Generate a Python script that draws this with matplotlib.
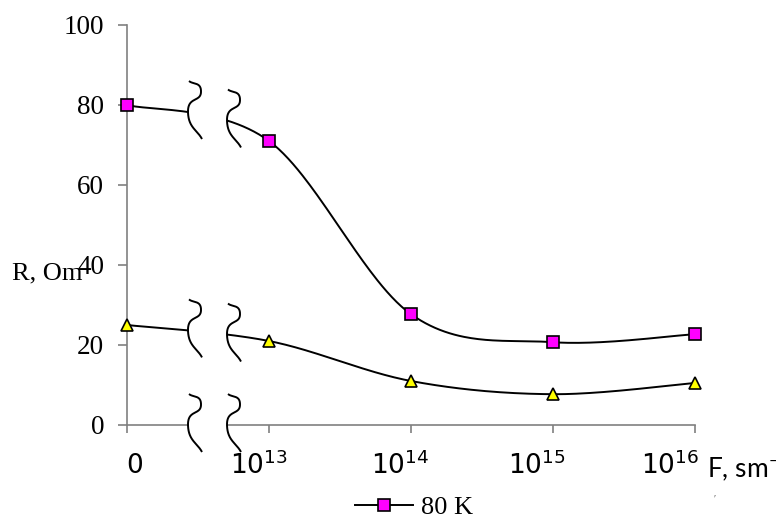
import numpy as np
import matplotlib
matplotlib.use("Agg")
import matplotlib.pyplot as plt
from matplotlib.patches import Rectangle

# data
x_labels = ["0", "10^{13}", "10^{14}", "10^{15}", "10^{16}"]
r_80k = [80, 71, 27.7, 20.7, 22.7]
r_other = [25, 21, 11, 7.7, 10.5]
legend_label = "80 K"

# layout (pixel offsets of tick labels from their ticks, as in the original)
label_shift_px = [7, -10, -11, -16, -25]

SERIF = "Liberation Serif"
SANS = "Lato"
plt.rcParams["mathtext.fontset"] = "custom"
plt.rcParams["mathtext.rm"] = SANS


def bezier_chain(pts, k, n=60):
    p = np.vstack([pts[0], pts, pts[-1]])
    out = []
    t = np.linspace(0, 1, n)[:, None]
    for i in range(1, len(p) - 2):
        p0, p1, p2, p3 = p[i - 1], p[i], p[i + 1], p[i + 2]
        c1 = p1 + (p2 - p0) * k
        c2 = p2 - (p3 - p1) * k
        out.append(((1 - t) ** 3) * p1 + 3 * ((1 - t) ** 2) * t * c1
                   + 3 * (1 - t) * t ** 2 * c2 + t ** 3 * p2)
    return np.vstack(out)


def smooth(y, n=60):
    # Excel-like smoothed line through the points
    pts = np.column_stack([np.arange(len(y)), y]).astype(float)
    c = bezier_chain(pts, 1 / 6, n)
    return c[:, 0], c[:, 1]


def value_at(y, xq):
    xs, ys = smooth(y, 400)
    return np.interp(xq, xs, ys)


def wave(ax, x0, y0):
    # break mark, pixel offsets converted to data units
    ctrl = np.array([[1, -31], [13, -20], [0, 0], [14, 27]], dtype=float)
    c = bezier_chain(ctrl, 1 / 3, 80)
    ax.plot(x0 + c[:, 0] / 142.0, y0 - c[:, 1] / 4.0, color="black", lw=1.4,
            zorder=6, clip_on=False, solid_capstyle="butt")


fig = plt.figure(figsize=(7.76, 5.18), dpi=100)
ax = fig.add_axes([127 / 776, 93 / 518, 568 / 776, 400 / 518])

xpos = np.arange(len(x_labels))
xs, ys = smooth(r_80k)
ax.plot(xs, ys, color="black", lw=1.4, zorder=3)
ax.plot(xpos, r_80k, ls="none", marker="s", ms=8.5, mfc="#FF00FF", mec="black",
        mew=1.2, zorder=7, clip_on=False)
xs, ys = smooth(r_other)
ax.plot(xs, ys, color="black", lw=1.4, zorder=3)
ax.plot(xpos, r_other, ls="none", marker="^", ms=9, mfc="#FFFF00", mec="black",
        mew=1.2, zorder=7, clip_on=False)

# legend shows only the square series
ax.plot([], [], color="black", lw=1.4, marker="s", ms=8.5, mfc="#FF00FF",
        mec="black", mew=1.2, label=legend_label)
ax.legend(loc="center", bbox_to_anchor=(414 / 776, 1 - 507 / 518),
          bbox_transform=fig.transFigure, frameon=False, handlelength=2.2,
          handletextpad=0.3, borderpad=0, prop={"family": SERIF, "size": 19})

ax.set_xlim(0, 4)
ax.set_ylim(0, 100)
for s in ["top", "right"]:
    ax.spines[s].set_visible(False)
for s in ["left", "bottom"]:
    ax.spines[s].set_color("#808080")
    ax.spines[s].set_linewidth(1.2)

ax.set_yticks([0, 20, 40, 60, 80, 100])
ax.tick_params(axis="y", direction="out", length=6.5, width=1.2, color="#808080",
               pad=10, labelsize=19.5)
for lab in ax.get_yticklabels():
    lab.set_fontfamily(SERIF)
ax.set_xticks(xpos)
ax.set_xticklabels([])
ax.tick_params(axis="x", direction="out", length=5.5, width=1.2, color="#808080")

# x tick labels
for i, lab in enumerate(x_labels):
    x_disp = 127 + 142 * i + label_shift_px[i]
    fig.text(x_disp / 776, 1 - 466 / 518, r"$\mathregular{" + lab + "}$",
             ha="center", va="center", fontsize=19, color="black")

# axis break
xb_left, xb_right = (188 - 127) / 142, (227 - 127) / 142
ax.add_patch(Rectangle((xb_left, -3), xb_right - xb_left, 104, facecolor="white",
                       edgecolor="none", zorder=5, clip_on=False))
for series in [r_80k, r_other]:
    wave(ax, xb_left, value_at(series, xb_left))
    wave(ax, xb_right, value_at(series, xb_right))
wave(ax, xb_left, 0)
wave(ax, xb_right, 0)

# axis titles
fig.text(12 / 776, 1 - 273 / 518, "R, Om", family=SERIF, fontsize=19,
         ha="left", va="center")
fig.text(707 / 776, 1 - 467 / 518, r"F, sm$^{-1}$", family=SANS, fontsize=19,
         ha="left", va="center")
fig.text(715 / 776, 1 - 499 / 518, "\u2032", family=SERIF, fontsize=7,
         ha="center", va="center", color="#555555")

fig.savefig("out.png", dpi=100)
